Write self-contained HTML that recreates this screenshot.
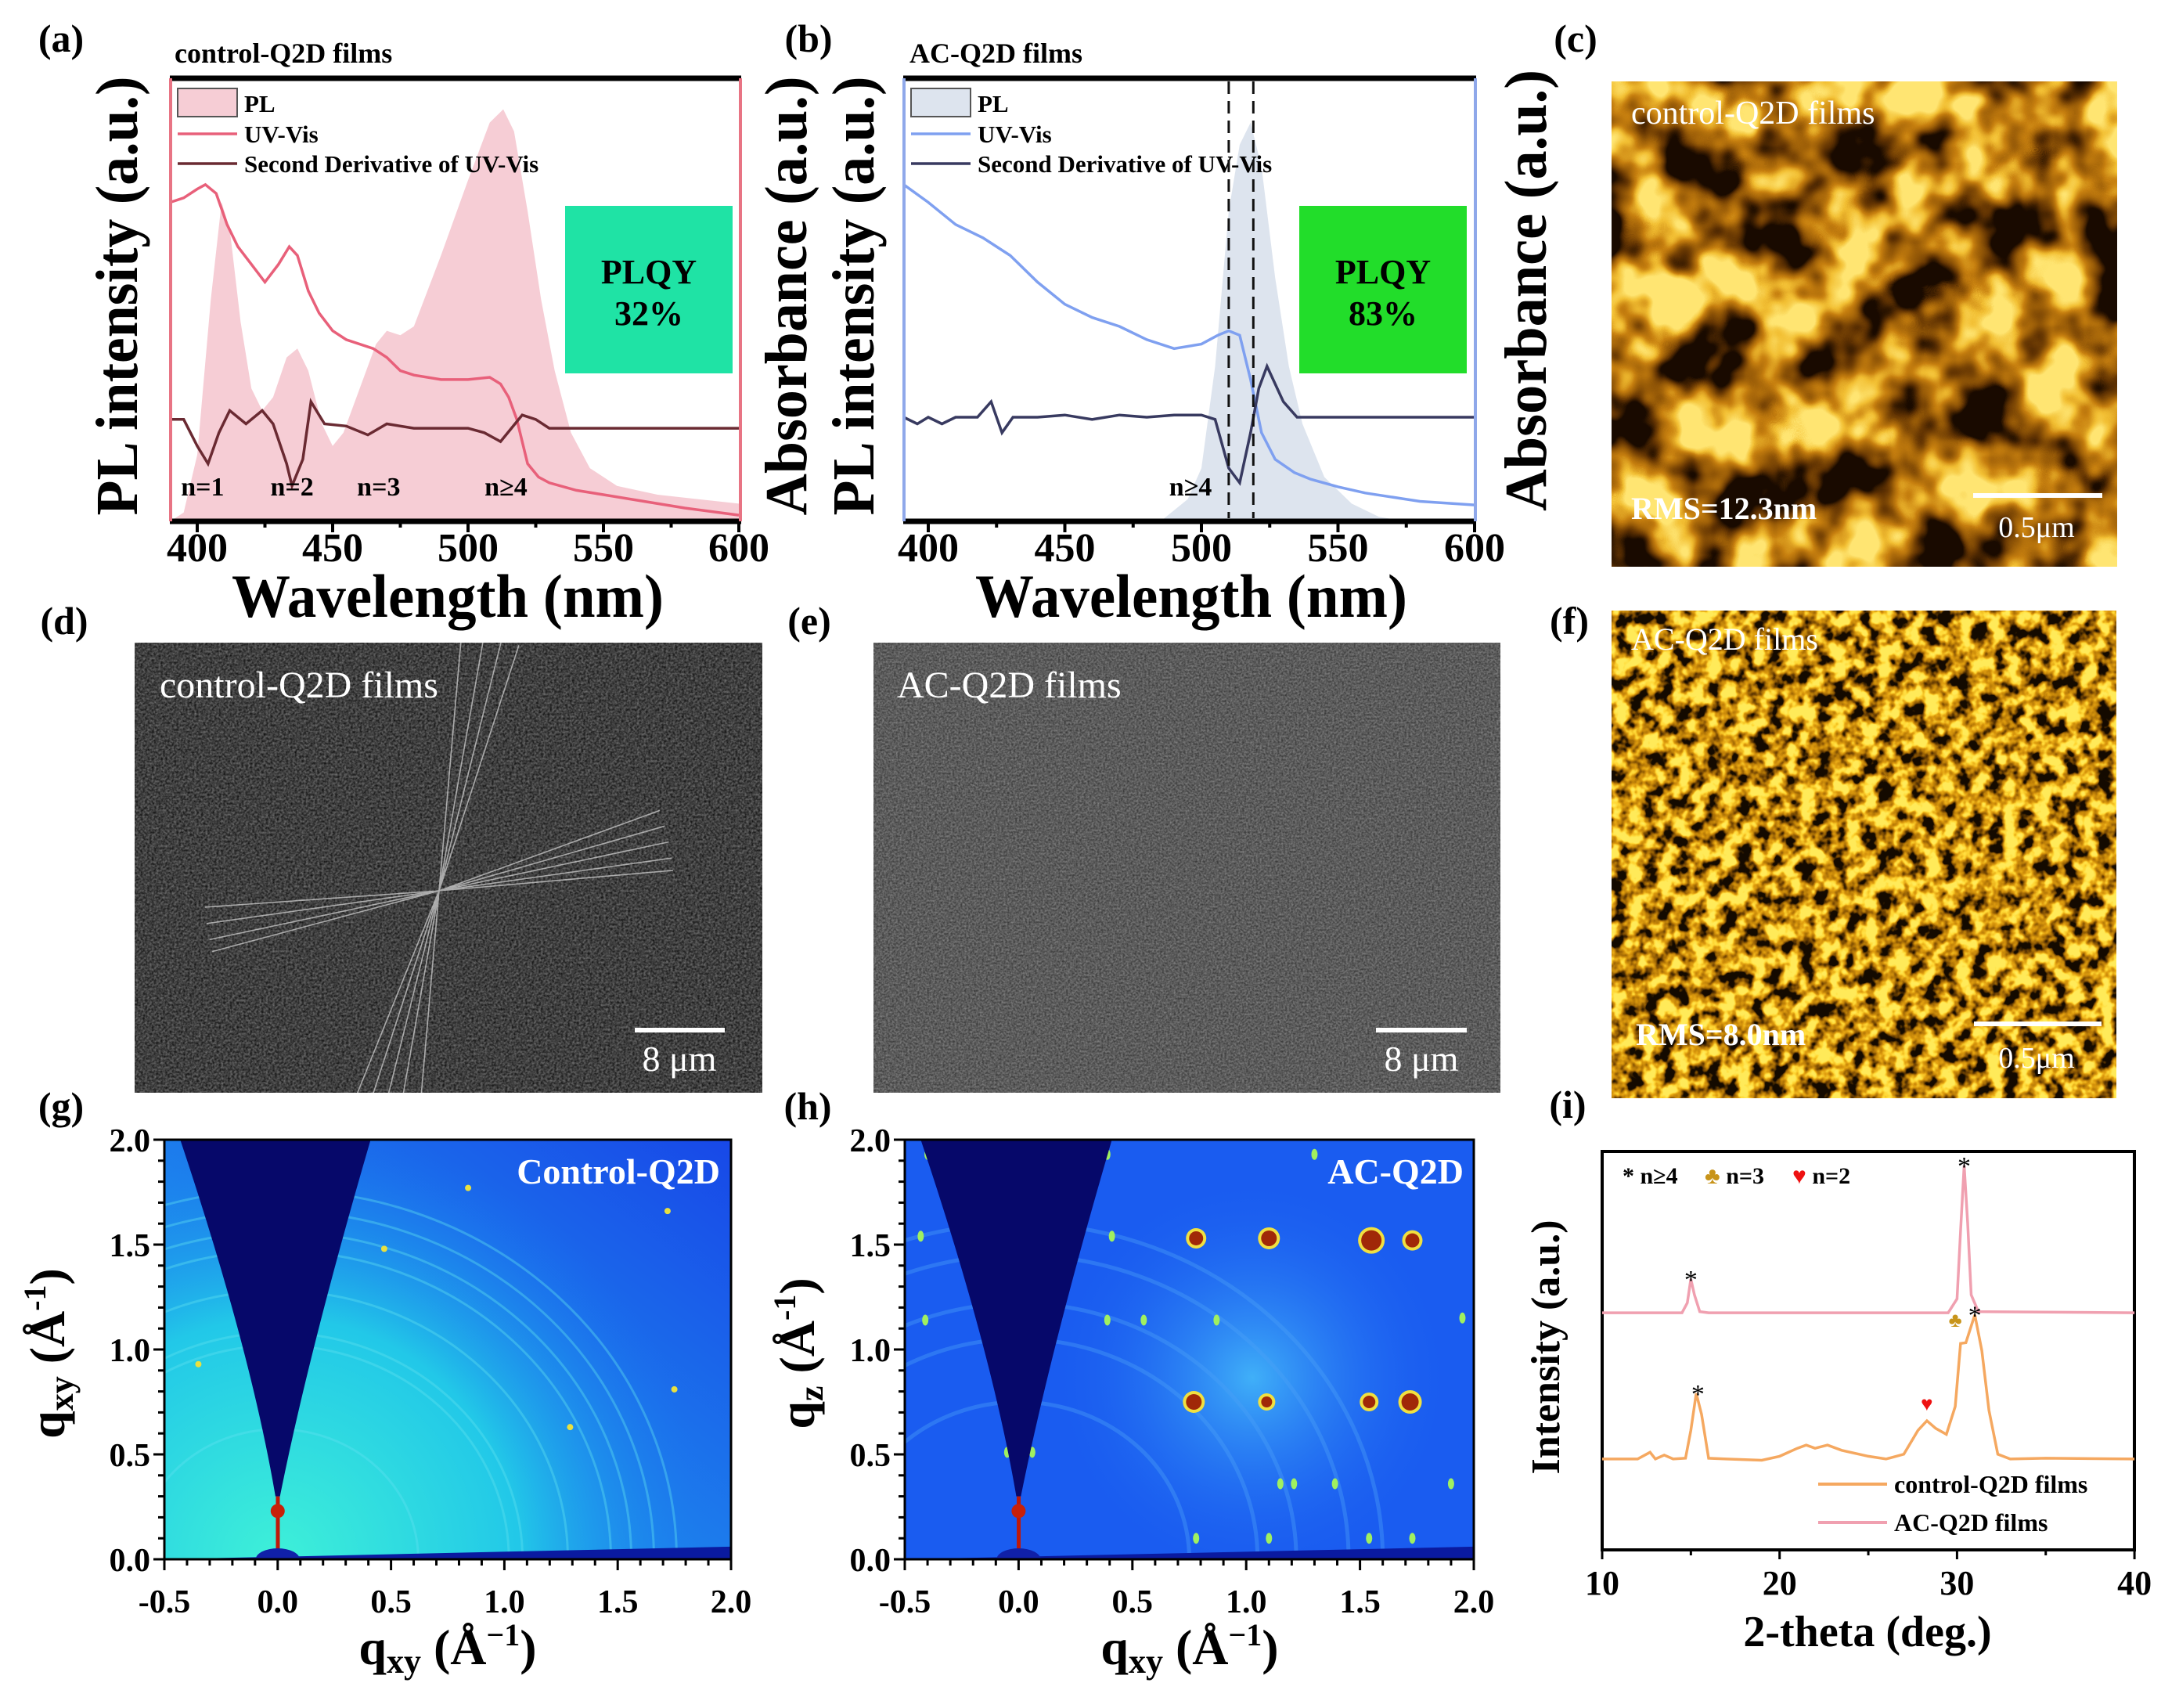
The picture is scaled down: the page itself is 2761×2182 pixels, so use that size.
<!DOCTYPE html>
<html><head><meta charset="utf-8"><style>
html,body{margin:0;padding:0;background:#fff;width:2761px;height:2182px;overflow:hidden}
svg{display:block;font-family:"Liberation Serif","DejaVu Serif",serif}
.b{font-weight:bold}
</style></head><body>
<svg id="fig" width="2761" height="2182" viewBox="0 0 2761 2182" xmlns="http://www.w3.org/2000/svg">
<defs>
<filter id="afmC" x="0" y="0" width="100%" height="100%" color-interpolation-filters="sRGB">
<feTurbulence type="fractalNoise" baseFrequency="0.012" numOctaves="3" seed="4"/>
<feColorMatrix type="matrix" values="3 0 0 0 -1  3 0 0 0 -1  3 0 0 0 -1  0 0 0 0 1"/>
<feComponentTransfer><feFuncR type="table" tableValues="0.1 0.38 0.6 0.78 0.95 1"/><feFuncG type="table" tableValues="0.04 0.2 0.36 0.5 0.75 0.9"/><feFuncB type="table" tableValues="0 0.01 0.03 0.06 0.2 0.45"/></feComponentTransfer>
</filter>
<filter id="afmF" x="0" y="0" width="100%" height="100%" color-interpolation-filters="sRGB">
<feTurbulence type="fractalNoise" baseFrequency="0.05" numOctaves="3" seed="9"/>
<feColorMatrix type="matrix" values="3 0 0 0 -1  3 0 0 0 -1  3 0 0 0 -1  0 0 0 0 1"/>
<feComponentTransfer><feFuncR type="table" tableValues="0.08 0.45 0.72 0.88 1 1"/><feFuncG type="table" tableValues="0.04 0.27 0.48 0.62 0.84 0.92"/><feFuncB type="table" tableValues="0 0.01 0.03 0.06 0.2 0.35"/></feComponentTransfer>
</filter>
<filter id="semD" x="0" y="0" width="100%" height="100%" color-interpolation-filters="sRGB">
<feTurbulence type="fractalNoise" baseFrequency="0.35" numOctaves="2" seed="2"/>
<feColorMatrix type="matrix" values="0.5 0 0 0 0  0.5 0 0 0 0  0.5 0 0 0 0  0 0 0 0 1"/>
</filter>
<filter id="semE" x="0" y="0" width="100%" height="100%" color-interpolation-filters="sRGB">
<feTurbulence type="fractalNoise" baseFrequency="0.4" numOctaves="2" seed="5"/>
<feColorMatrix type="matrix" values="0.4 0 0 0 0.16  0.4 0 0 0 0.16  0.4 0 0 0 0.16  0 0 0 0 1"/>
</filter>
<radialGradient id="gGlow" gradientUnits="userSpaceOnUse" cx="355" cy="1992" r="560"><stop offset="0" stop-color="#3ef0d8"/><stop offset="0.55" stop-color="#22c8e8"/><stop offset="1" stop-color="#1a70f0" stop-opacity="0"/></radialGradient>
<linearGradient id="gBg" x1="0" y1="1" x2="1" y2="0"><stop offset="0" stop-color="#20b0f0"/><stop offset="1" stop-color="#1848e8"/></linearGradient>
<radialGradient id="hGlow" gradientUnits="userSpaceOnUse" cx="1600" cy="1760" r="260"><stop offset="0" stop-color="#40b0f8"/><stop offset="1" stop-color="#1a5cf0" stop-opacity="0"/></radialGradient>
<clipPath id="clipG"><rect x="210" y="1456" width="724" height="536"/></clipPath>
<clipPath id="clipH"><rect x="1156" y="1456" width="727" height="536"/></clipPath>
<clipPath id="clipD"><rect x="172" y="821" width="802" height="575"/></clipPath>
</defs>

<!-- panel letters -->
<g class="b" font-size="50" text-anchor="middle">
<text x="78" y="66">(a)</text>
<text x="1033" y="66">(b)</text>
<text x="2013" y="66">(c)</text>
<text x="82" y="810">(d)</text>
<text x="1034" y="810">(e)</text>
<text x="2005" y="810">(f)</text>
<text x="78" y="1430">(g)</text>
<text x="1032" y="1430">(h)</text>
<text x="2003" y="1428">(i)</text>
</g>

<!-- panel a static -->
<g id="pa">
<text class="b" x="223" y="80" font-size="36">control-Q2D films</text>
<rect x="722" y="263" width="214" height="214" fill="#1fe3a5"/>
<text class="b" x="829" y="362" font-size="44" text-anchor="middle">PLQY</text>
<text class="b" x="829" y="415" font-size="44" text-anchor="middle">32%</text>
<text class="b" transform="translate(175,378) rotate(-90)" font-size="76" text-anchor="middle" textLength="561" lengthAdjust="spacingAndGlyphs">PL intensity (a.u.)</text>
<text class="b" transform="translate(1030,378) rotate(-90)" font-size="76" text-anchor="middle" textLength="561" lengthAdjust="spacingAndGlyphs">Absorbance (a.u.)</text>
<text class="b" x="572" y="788" font-size="78" text-anchor="middle" textLength="552" lengthAdjust="spacingAndGlyphs">Wavelength (nm)</text>
</g>
<!-- panel b static -->
<g id="pb">
<text class="b" x="1162" y="80" font-size="36">AC-Q2D films</text>
<rect x="1660" y="263" width="214" height="214" fill="#22dd2a"/>
<text class="b" x="1767" y="362" font-size="44" text-anchor="middle">PLQY</text>
<text class="b" x="1767" y="415" font-size="44" text-anchor="middle">83%</text>
<text class="b" transform="translate(1116,378) rotate(-90)" font-size="76" text-anchor="middle" textLength="561" lengthAdjust="spacingAndGlyphs">PL intensity (a.u.)</text>
<text class="b" transform="translate(1975,371) rotate(-90)" font-size="76" text-anchor="middle" textLength="564" lengthAdjust="spacingAndGlyphs">Absorbance (a.u.)</text>
<text class="b" x="1522" y="788" font-size="78" text-anchor="middle" textLength="552" lengthAdjust="spacingAndGlyphs">Wavelength (nm)</text>
</g>

<!-- panel c AFM -->
<g>
<rect x="2059" y="104" width="646" height="620" filter="url(#afmC)" fill="#a06010"/>
<text x="2084" y="158" font-size="42" fill="#fff">control-Q2D films</text>
<text class="b" x="2084" y="663" font-size="40" fill="#fff">RMS=12.3nm</text>
<rect x="2521" y="630" width="165" height="6" fill="#fff"/>
<text x="2602" y="686" font-size="38" fill="#fff" text-anchor="middle">0.5μm</text>
</g>
<!-- panel f AFM -->
<g>
<rect x="2059" y="780" width="645" height="623" filter="url(#afmF)" fill="#a06010"/>
<text x="2084" y="830" font-size="40" fill="#fff">AC-Q2D films</text>
<text class="b" x="2090" y="1335" font-size="40" fill="#fff">RMS=8.0nm</text>
<rect x="2522" y="1305" width="163" height="6" fill="#fff"/>
<text x="2602" y="1364" font-size="38" fill="#fff" text-anchor="middle">0.5μm</text>
</g>
<!-- panel d SEM -->
<g>
<rect x="172" y="821" width="802" height="575" filter="url(#semD)" fill="#444"/>
<g id="semLines" clip-path="url(#clipD)" stroke="#cfcfcf" stroke-width="1.6" opacity="0.75"></g>
<text x="204" y="891" font-size="48" fill="#fff">control-Q2D films</text>
<rect x="811" y="1313" width="115" height="6" fill="#fff"/>
<text x="868" y="1368" font-size="46" fill="#fff" text-anchor="middle">8 μm</text>
</g>
<!-- panel e SEM -->
<g>
<rect x="1116" y="821" width="801" height="575" filter="url(#semE)" fill="#555"/>
<text x="1146" y="891" font-size="48" fill="#fff">AC-Q2D films</text>
<rect x="1758" y="1313" width="116" height="6" fill="#fff"/>
<text x="1816" y="1368" font-size="46" fill="#fff" text-anchor="middle">8 μm</text>
</g>

<!-- panel g GIWAXS -->
<g>
<g clip-path="url(#clipG)" id="gMap">
<rect x="210" y="1456" width="724" height="536" fill="url(#gBg)"/>
<rect x="210" y="1456" width="724" height="536" fill="url(#gGlow)"/>
</g>
<text class="b" x="920" y="1512" font-size="46" fill="#fff" text-anchor="end">Control-Q2D</text>
<text class="b" transform="translate(82,1729) rotate(-90)" font-size="64" text-anchor="middle">q<tspan font-size="44" baseline-shift="-25%">xy</tspan> (Å<tspan font-size="40" baseline-shift="60%">-1</tspan>)</text>
<text class="b" x="572" y="2126" font-size="64" text-anchor="middle">q<tspan font-size="44" baseline-shift="-25%">xy</tspan> (Å<tspan font-size="40" baseline-shift="60%">−1</tspan>)</text>
</g>
<!-- panel h GIWAXS -->
<g>
<g clip-path="url(#clipH)" id="hMap">
<rect x="1156" y="1456" width="727" height="536" fill="#1a5cf0"/>
<rect x="1156" y="1456" width="727" height="536" fill="url(#hGlow)"/>
</g>
<text class="b" x="1870" y="1512" font-size="46" fill="#fff" text-anchor="end">AC-Q2D</text>
<text class="b" transform="translate(1040,1729) rotate(-90)" font-size="64" text-anchor="middle">q<tspan font-size="44" baseline-shift="-25%">z</tspan> (Å<tspan font-size="40" baseline-shift="60%">-1</tspan>)</text>
<text class="b" x="1520" y="2126" font-size="64" text-anchor="middle">q<tspan font-size="44" baseline-shift="-25%">xy</tspan> (Å<tspan font-size="40" baseline-shift="60%">−1</tspan>)</text>
</g>
<!-- panel i XRD -->
<g>
<text class="b" transform="translate(1992,1721) rotate(-90)" font-size="52" text-anchor="middle">Intensity (a.u.)</text>
<text class="b" x="2386" y="2103" font-size="56" text-anchor="middle">2-theta (deg.)</text>
<text class="b" x="2073" y="1512" font-size="30">* n≥4</text>
<text class="b" x="2178" y="1512" font-size="30"><tspan fill="#c8941a">♣</tspan> n=3</text>
<text class="b" x="2290" y="1512" font-size="30"><tspan fill="#ee1111">♥</tspan> n=2</text>
<line x1="2323" y1="1896" x2="2411" y2="1896" stroke="#f5a860" stroke-width="4"/>
<text class="b" x="2420" y="1907" font-size="32">control-Q2D films</text>
<line x1="2323" y1="1945" x2="2411" y2="1945" stroke="#f0a0b0" stroke-width="4"/>
<text class="b" x="2420" y="1956" font-size="32">AC-Q2D films</text>
</g>
<g id="dyn"></g>
</svg>
<script>
// ---------- data: panel (a) ----------
const aPLwl = [390,395,400,405,409,412,416,420,424,428,433,437,441,446,450,454,460,466,470,475,480,490,500,508,513,517,522,527,532,538,545,555,570,600];
const aPLv  = [0,0.02,0.15,0.5,0.72,0.66,0.45,0.3,0.25,0.28,0.37,0.39,0.34,0.22,0.17,0.2,0.3,0.4,0.43,0.42,0.44,0.6,0.77,0.9,0.93,0.88,0.7,0.5,0.34,0.2,0.12,0.08,0.06,0.04];
const aUVwl = [390,395,400,403,407,411,415,420,425,430,434,437,441,445,450,455,465,470,475,480,490,500,508,512,515,518,522,526,530,540,550,565,580,600];
const aUVv  = [0.72,0.73,0.75,0.76,0.74,0.67,0.62,0.58,0.54,0.58,0.62,0.6,0.52,0.47,0.43,0.41,0.39,0.37,0.34,0.33,0.32,0.32,0.325,0.31,0.28,0.23,0.13,0.1,0.087,0.07,0.06,0.045,0.03,0.014];
const aDRwl = [390,395,400,404,408,412,418,424,428,433,435,439,442,447,455,463,470,480,490,500,506,512,516,520,525,530,560,600];
const aDRv  = [0.23,0.23,0.17,0.13,0.2,0.25,0.22,0.25,0.22,0.13,0.08,0.14,0.27,0.22,0.215,0.195,0.22,0.21,0.21,0.21,0.2,0.18,0.21,0.24,0.23,0.21,0.21,0.21];
const aTicks = [400,450,500,550,600];
const aNlabels = ["n=1","n=2","n=3","n≥4"];
const aNwl = [402,435,467,514];
// ---------- data: panel (b) ----------
const bPLwl = [485,495,500,505,510,514,518,522,527,532,537,545,555,565,575];
const bPLv  = [0,0.05,0.12,0.35,0.7,0.85,0.9,0.8,0.55,0.35,0.22,0.1,0.04,0.01,0];
const bUVwl = [391,400,410,420,430,440,450,460,470,480,490,500,506,510,514,518,522,527,534,540,550,560,580,600];
const bUVv  = [0.76,0.72,0.67,0.64,0.6,0.54,0.49,0.46,0.44,0.41,0.39,0.4,0.42,0.43,0.42,0.32,0.2,0.14,0.11,0.095,0.078,0.064,0.045,0.037];
const bDRwl = [391,396,400,405,410,418,423,427,431,440,450,460,470,480,490,500,505,510,514,518,521,524,530,535,560,600];
const bDRv  = [0.235,0.22,0.235,0.22,0.235,0.235,0.27,0.2,0.235,0.235,0.24,0.23,0.24,0.235,0.24,0.24,0.23,0.12,0.087,0.2,0.3,0.35,0.27,0.235,0.235,0.235];
const bDash = [510,519];
const bTicks = [400,450,500,550,600];
// ---------- data: panel (i) ----------
const iTheta = [10,12,12.7,13,13.5,14,14.7,15,15.3,15.6,16,17,19,20,21,21.5,22,22.7,23.5,25,26,27,27.8,28.3,28.8,29.4,29.9,30.2,30.5,31,31.4,31.8,32.3,33,35,40];
const iCtrl  = [22.8,22.8,24.5,22.8,23.8,22.8,23,30,39.3,34,23,22.8,22.5,23.5,25.5,26.3,25.5,26.3,25,23.5,22.8,24,30,32.4,30.5,29,36,51.8,52,59,50,35,24,22.8,23,22.8];
const iACtheta = [10,14.5,14.8,15,15.2,15.5,16,29.5,30,30.2,30.4,30.6,30.8,31.2,40];
const iAC      = [59.5,59.5,62,68,64,59.8,59.5,59.5,63,80,96.5,82,64,59.8,59.5];
const iTicks = [10,20,30,40];
// ---------- data: GIWAXS ----------
const qTicks = [-0.5,0.0,0.5,1.0,1.5,2.0];
const qzTicks = [0.0,0.5,1.0,1.5,2.0];
const gRings = [0.62,1.02,1.08,1.28,1.47,1.56,1.66,1.76];
const gSpotQx = [0.84,1.72,0.47,1.29,1.75,-0.35];
const gSpotQz = [1.77,1.66,1.48,0.63,0.81,0.93];
const hBigQx = [0.78,1.1,1.55,1.73,0.77,1.09,1.54,1.72];
const hBigQz = [1.53,1.53,1.52,1.52,0.75,0.75,0.75,0.75];
const hBigR  = [9,10,13,9,10,7,8,11];
const hSmQx = [-0.41,0.39,0.55,0.87,1.15,1.21,1.39,-0.43,0.41,1.95,-0.05,0.06,0.78,1.1,1.54,1.73,-0.4,0.39,1.3,1.9];
const hSmQz = [1.14,1.14,1.14,1.14,0.36,0.36,0.36,1.54,1.54,1.15,0.51,0.51,0.1,0.1,0.1,0.1,1.93,1.93,1.93,0.36];
const hRings = [0.75,1.05,1.22,1.45,1.6];

const NS = "http://www.w3.org/2000/svg";
const dyn = document.getElementById('dyn');
function mk(tag, parent){ const e=document.createElementNS(NS,tag); (parent||dyn).appendChild(e); return e; }
function pathD(xs, ys, fx, fy){ return xs.map((x,i)=>(i?'L':'M')+fx(x).toFixed(1)+','+fy(ys[i]).toFixed(1)).join(''); }

// axis functions
const ax = w => 252 + (w-400)*3.46;
const bx = w => 1186 + (w-400)*3.49;
const sy = v => 666 - v*566;
const ix = t => 2047 + (t-10)*22.67;
const iy = v => 1980 - v*5.09;
const gx = q => 210 + (q+0.5)*289.6;
const hx = q => 1156 + (q+0.5)*290.8;
const qy = q => 1992 - q*268;

function spectrumPanel(fx, left, right, plX, plV, plFill, uvX, uvV, uvCol, drX, drV, drCol, sideCol, ticks, key){
  const clip = 'M'+fx(plX[0]).toFixed(1)+','+sy(0)+plX.map((w,i)=>'L'+fx(w).toFixed(1)+','+sy(plV[i]).toFixed(1)).join('')+'L'+fx(plX[plX.length-1]).toFixed(1)+','+sy(0)+'Z';
  const pl = mk('path'); pl.setAttribute('d',clip); pl.setAttribute('fill',plFill);
  
  
  const uv = mk('path'); uv.setAttribute('d',pathD(uvX,uvV,fx,sy)); uv.setAttribute('fill','none'); uv.setAttribute('stroke',uvCol); uv.setAttribute('stroke-width','3.5');
  
  
  const dr = mk('path'); dr.setAttribute('d',pathD(drX,drV,fx,sy)); dr.setAttribute('fill','none'); dr.setAttribute('stroke',drCol); dr.setAttribute('stroke-width','3.5');
  
  
  const fr = mk('path'); fr.setAttribute('d','M'+left+',100L'+right+',100M'+left+',666L'+right+',666'); fr.setAttribute('stroke','#000'); fr.setAttribute('stroke-width','7');
  
  
  const sd = mk('path'); sd.setAttribute('d','M'+(left+1)+',100L'+(left+1)+',666M'+(right-1)+',100L'+(right-1)+',666'); sd.setAttribute('stroke',sideCol); sd.setAttribute('stroke-width','4');
  
  
  for(let w=ticks[0]-50; w<=ticks[ticks.length-1]; w+=25){
    if(fx(w)<left) continue;
    const t = mk('line'); const major = (w%50===0);
    t.setAttribute('x1',fx(w)); t.setAttribute('x2',fx(w)); t.setAttribute('y1',666); t.setAttribute('y2',666+(major?14:8)); t.setAttribute('stroke','#000'); t.setAttribute('stroke-width','4');
    
    
  }
  ticks.forEach(w=>{
    const t = mk('text'); t.textContent = w; t.setAttribute('x',fx(w)); t.setAttribute('y',717); t.setAttribute('font-size','52'); t.setAttribute('font-weight','bold'); t.setAttribute('text-anchor','middle');
    
    
  });
  const sw = mk('rect'); sw.setAttribute('x',left+10); sw.setAttribute('y',113); sw.setAttribute('width',76); sw.setAttribute('height',36); sw.setAttribute('fill',plFill); sw.setAttribute('stroke','#555'); sw.setAttribute('stroke-width','2');
  
  
  const cols=[uvCol,drCol]; const ys=[171,209];
  ys.forEach((y,i)=>{ const l=mk('line'); l.setAttribute('x1',left+10); l.setAttribute('x2',left+86); l.setAttribute('y1',y); l.setAttribute('y2',y); l.setAttribute('stroke',cols[i]); l.setAttribute('stroke-width','3.5');
    
     });
  const names=['PL','UV-Vis','Second Derivative of UV-Vis']; const ty=[143,182,220];
  names.forEach((n,i)=>{ const t=mk('text'); t.textContent=n; t.setAttribute('x',left+95); t.setAttribute('y',ty[i]); t.setAttribute('font-size','31'); t.setAttribute('font-weight','bold');
    
     });
}
spectrumPanel(ax,217,947,aPLwl,aPLv,'#f6cdd5',aUVwl,aUVv,'#e8607a',aDRwl,aDRv,'#6a2a32','#e87484',aTicks,'a');
spectrumPanel(bx,1154,1886,bPLwl,bPLv,'#dde4ee',bUVwl,bUVv,'#7fa0f0',bDRwl,bDRv,'#383a60','#8fa8ea',bTicks,'b');
aNlabels.forEach((s,i)=>{ const t=mk('text'); t.textContent=s; t.setAttribute('x',ax(aNwl[i])); t.setAttribute('y',633); t.setAttribute('font-size','34'); t.setAttribute('font-weight','bold'); t.setAttribute('text-anchor','middle');
  
   });
{ const t=mk('text'); t.textContent='n≥4'; t.setAttribute('x',bx(496)); t.setAttribute('y',633); t.setAttribute('font-size','34'); t.setAttribute('font-weight','bold'); t.setAttribute('text-anchor','middle');
  
   }
bDash.forEach(w=>{ const l=mk('line'); l.setAttribute('x1',bx(w)); l.setAttribute('x2',bx(w)); l.setAttribute('y1',104); l.setAttribute('y2',662); l.setAttribute('stroke','#111'); l.setAttribute('stroke-width','3'); l.setAttribute('stroke-dasharray','16,9');
  
   });

// ---------- panel (i) ----------
{
  const fr=mk('rect'); fr.setAttribute('x',2047); fr.setAttribute('y',1471); fr.setAttribute('width',680); fr.setAttribute('height',509); fr.setAttribute('fill','none'); fr.setAttribute('stroke','#000'); fr.setAttribute('stroke-width','4');
  
  
  const c=mk('path'); c.setAttribute('d',pathD(iTheta,iCtrl,ix,iy)); c.setAttribute('fill','none'); c.setAttribute('stroke','#f5a860'); c.setAttribute('stroke-width','3.5');
  
  
  const a=mk('path'); a.setAttribute('d',pathD(iACtheta,iAC,ix,iy)); a.setAttribute('fill','none'); a.setAttribute('stroke','#f0a0b0'); a.setAttribute('stroke-width','3.5');
  
  
  for(let t=10;t<=40;t+=5){ const l=mk('line'); l.setAttribute('x1',ix(t)); l.setAttribute('x2',ix(t)); l.setAttribute('y1',1980); l.setAttribute('y2',1980+(t%10===0?12:7)); l.setAttribute('stroke','#000'); l.setAttribute('stroke-width','3');
    
     }
  iTicks.forEach(t=>{ const e=mk('text'); e.textContent=t; e.setAttribute('x',ix(t)); e.setAttribute('y',2037); e.setAttribute('font-size','44'); e.setAttribute('font-weight','bold'); e.setAttribute('text-anchor','middle');
    
     });
  const mTheta=[15,30.4,15.4,31]; const mVal=[68,96.5,39.3,59];
  mTheta.forEach((t,i)=>{ const e=mk('text'); e.textContent='*'; e.setAttribute('x',ix(t)); e.setAttribute('y',iy(mVal[i])+12); e.setAttribute('font-size','34'); e.setAttribute('text-anchor','middle');
    
     });
  const cl=mk('text'); cl.textContent='♣'; cl.setAttribute('x',ix(29.9)); cl.setAttribute('y',iy(56)); cl.setAttribute('fill','#c8941a'); cl.setAttribute('font-size','26'); cl.setAttribute('text-anchor','middle');
  
  
  const ht=mk('text'); ht.textContent='♥'; ht.setAttribute('x',ix(28.3)); ht.setAttribute('y',iy(35)); ht.setAttribute('fill','#ee1111'); ht.setAttribute('font-size','26'); ht.setAttribute('text-anchor','middle');
  
  
}

// ---------- GIWAXS maps ----------
function giwaxsAxes(fx, left, right, key){
  const fr=mk('rect'); fr.setAttribute('x',left); fr.setAttribute('y',1456); fr.setAttribute('width',right-left); fr.setAttribute('height',536); fr.setAttribute('fill','none'); fr.setAttribute('stroke','#000'); fr.setAttribute('stroke-width','3');
  
  
  for(let k=-5;k<=20;k++){ const q=k/10; const l=mk('line'); l.setAttribute('x1',fx(q)); l.setAttribute('x2',fx(q)); l.setAttribute('y1',1992); l.setAttribute('y2',1992+(k%5===0?14:8)); l.setAttribute('stroke','#000'); l.setAttribute('stroke-width','3');
    
     }
  for(let k=0;k<=20;k++){ const q=k/10; const l=mk('line'); l.setAttribute('x1',left); l.setAttribute('x2',left-(k%5===0?14:8)); l.setAttribute('y1',qy(q)); l.setAttribute('y2',qy(q)); l.setAttribute('stroke','#000'); l.setAttribute('stroke-width','3');
    
     }
  qTicks.forEach(q=>{ const e=mk('text'); e.textContent=q.toFixed(1); e.setAttribute('x',fx(q)); e.setAttribute('y',2060); e.setAttribute('font-size','42'); e.setAttribute('font-weight','bold'); e.setAttribute('text-anchor','middle');
    
     });
  qzTicks.forEach(q=>{ const e=mk('text'); e.textContent=q.toFixed(1); e.setAttribute('x',left-18); e.setAttribute('y',qy(q)+15); e.setAttribute('font-size','42'); e.setAttribute('font-weight','bold'); e.setAttribute('text-anchor','end');
    
     });
}
function wedge(fx, parent, key){
  const p=mk('path',parent);
  p.setAttribute('d','M'+fx(-0.43)+','+qy(2.0)+' Q'+fx(-0.12)+','+qy(1.0)+' '+fx(-0.01)+','+qy(0.3)+' L'+fx(0.01)+','+qy(0.3)+' Q'+fx(0.14)+','+qy(1.0)+' '+fx(0.41)+','+qy(2.0)+'Z');
  p.setAttribute('fill','#06086a');
  
  
  const s=mk('rect',parent); s.setAttribute('x',fx(-0.008)); s.setAttribute('y',qy(0.3)); s.setAttribute('width',5); s.setAttribute('height',qy(0.05)-qy(0.3)); s.setAttribute('fill','#c01808');
  
  
  const c=mk('ellipse',parent); c.setAttribute('cx',fx(0)); c.setAttribute('cy',qy(0.23)); c.setAttribute('rx',9); c.setAttribute('ry',9); c.setAttribute('fill','#c82008');
  
  
  const b=mk('path',parent); b.setAttribute('d','M'+fx(-0.5)+','+qy(0)+'L'+fx(2)+','+qy(0.06)+'L'+fx(2)+','+qy(0)+'Z'); b.setAttribute('fill','#0a1aa0');
  
  
  const e=mk('ellipse',parent); e.setAttribute('cx',fx(0)); e.setAttribute('cy',qy(0)); e.setAttribute('rx',28); e.setAttribute('ry',14); e.setAttribute('fill','#1020a8');
  
  
}
const gMap=document.getElementById('gMap');
gRings.forEach(r=>{ const e=mk('ellipse',gMap); e.setAttribute('cx',gx(0)); e.setAttribute('cy',qy(0)); e.setAttribute('rx',r*289.6); e.setAttribute('ry',r*268); e.setAttribute('fill','none'); e.setAttribute('stroke','#60e0f0'); e.setAttribute('stroke-width','3'); e.setAttribute('opacity','0.4');
  
   });
gSpotQx.forEach((q,i)=>{ const e=mk('circle',gMap); e.setAttribute('cx',gx(q)); e.setAttribute('cy',qy(gSpotQz[i])); e.setAttribute('r',4); e.setAttribute('fill','#e8e040');
  
   });
wedge(gx,gMap,'g');
const hMap=document.getElementById('hMap');
hRings.forEach(r=>{ const e=mk('ellipse',hMap); e.setAttribute('cx',hx(0)); e.setAttribute('cy',qy(0)); e.setAttribute('rx',r*290.8); e.setAttribute('ry',r*268); e.setAttribute('fill','none'); e.setAttribute('stroke','#4aa0f8'); e.setAttribute('stroke-width','5'); e.setAttribute('opacity','0.4');
  
   });
hSmQx.forEach((q,i)=>{ const e=mk('ellipse',hMap); e.setAttribute('cx',hx(q)); e.setAttribute('cy',qy(hSmQz[i])); e.setAttribute('rx',4); e.setAttribute('ry',7); e.setAttribute('fill','#a0f060');
  
   });
hBigQx.forEach((q,i)=>{ const o=mk('circle',hMap); o.setAttribute('cx',hx(q)); o.setAttribute('cy',qy(hBigQz[i])); o.setAttribute('r',hBigR[i]+4); o.setAttribute('fill','#f0e040');
  
  
  const e=mk('circle',hMap); e.setAttribute('cx',hx(q)); e.setAttribute('cy',qy(hBigQz[i])); e.setAttribute('r',hBigR[i]); e.setAttribute('fill','#a02808');
  
   });
wedge(hx,hMap,'h');
giwaxsAxes(gx,210,934,'g');
giwaxsAxes(hx,1156,1883,'h');

// SEM streak texture (decorative)
const semG=document.getElementById('semLines');
const streakAng=[-20,-16,-12,-8,-5,165,168,172,176,95,100,104,108,112,-85,-80,-76,-72];
streakAng.forEach(a=>{ const l=mk('line',semG); const r=a*Math.PI/180; const L=(Math.abs(a)>60&&Math.abs(a)<120)?330:300;
  l.setAttribute('x1',561); l.setAttribute('y1',1138); l.setAttribute('x2',(561+L*Math.cos(r)).toFixed(1)); l.setAttribute('y2',(1138+L*Math.sin(r)).toFixed(1));
  
   });
</script>
</body></html>
